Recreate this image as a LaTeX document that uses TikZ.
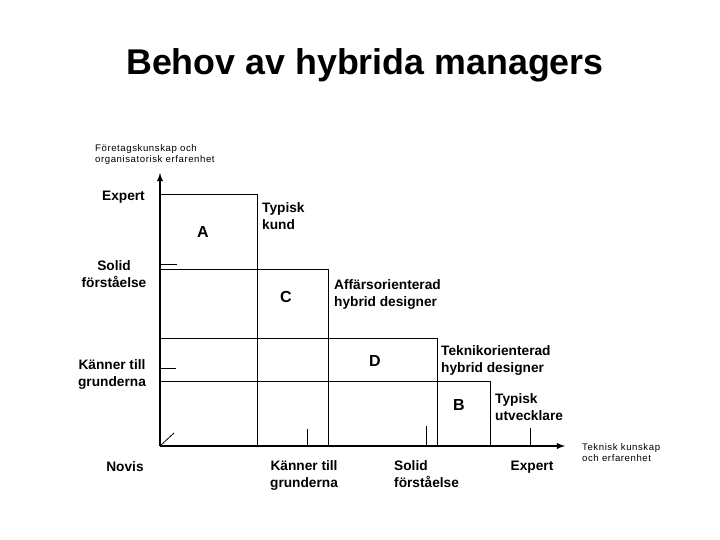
\documentclass[tikz,border=0pt]{standalone}
\usepackage{fontspec}
\setmainfont{Liberation Sans}
\usetikzlibrary{calc}
\tikzset{axel/.style={line width=1.8pt,color=black},axel/.default=black}
\tikzset{ruta/.style={line width=0.8pt,color=black}}

\begin{document}
\begin{tikzpicture}[x=1pt,y=-1pt,
		etikett/.style={inner sep=0pt,font=\bfseries\fontsize{13.7}{17}\selectfont},
		liten/.style={inner sep=0pt,align=left,font=\addfontfeature{LetterSpace=6}\fontsize{9.6}{11}\selectfont},
		bokstav/.style={inner sep=0pt,font=\bfseries\fontsize{16}{16}\selectfont}]

		\useasboundingbox (0,0) rectangle (720,540);

		% Rubriken
		\node [inner sep=0pt,anchor=base,font=\bfseries\fontsize{35.8}{36}\selectfont] (rubrik)
			at (365,75) {Behov av hybrida managers};

		% Origo och axlarnas ändar
		\coordinate (O) at (160,446);
		\coordinate (ytopp) at (160,173);
		\coordinate (xslut) at (565,446);

		% Rutorna (trappan)
		\draw [ruta] ($(O)+(0,-252)$) -| ($(O)+(97,0)$);
		\draw [ruta] ($(O)+(0,-177)$) -| ($(O)+(168,0)$);
		\draw [ruta] ($(O)+(0,-108)$) -| ($(O)+(277,0)$);
		\draw [ruta] ($(O)+(0,-65)$)  -| ($(O)+(330,0)$);

		% Små markeringar på axlarna
		\draw [ruta] ($(O)+(0,-182)$) -- ++(17,0);
		\draw [ruta] ($(O)+(0,-78)$)  -- ++(16,0);
		\draw [ruta] ($(O)+(147,0)$) -- ++(0,-17);
		\draw [ruta] ($(O)+(266,0)$) -- ++(0,-20);
		\draw [ruta] ($(O)+(370,0)$) -- ++(0,-18);
		\draw [ruta] (O) -- ++(14,-13);

		% Axlarna
		\draw [axel,-latex] (O) -- (ytopp);
		\draw [axel,-latex] (O) -- (xslut);

		% Axeltexter
		\node [liten,anchor=base west] (yaxel) at (95,163)
			{Företagskunskap och\\organisatorisk erfarenhet};
		\node [liten,anchor=base west] (xaxel) at (582,461)
			{Teknisk kunskap\\och erfarenhet};

		% Nivåer på y-axeln
		\node [etikett,anchor=east] (yexpert) at (145,197) {Expert};
		\node [etikett,align=center] (ysolid) at (114,274) {Solid\\förståelse};
		\node [etikett,align=center] (ykanner) at (112,374) {Känner till\\grunderna};

		% Nivåer på x-axeln
		\node [etikett] (xnovis) at (125,467) {Novis};
		\node [etikett,align=center,anchor=north] (xkanner) at (304,460) {Känner till\\grunderna};
		\node [etikett,align=left,anchor=north west] (xsolid) at (394,460) {Solid\\förståelse};
		\node [etikett] (xexpert) at (532,467) {Expert};

		% Bokstäverna i rutorna
		\node [bokstav] (A) at (203,232) {A};
		\node [bokstav] (C) at (286,297) {C};
		\node [bokstav] (D) at (375,361) {D};
		\node [bokstav] (B) at (459,405) {B};

		% Rollerna
		\node [etikett,align=left,anchor=west] (kund) at (262,216) {Typisk\\kund};
		\node [etikett,align=left,anchor=west] (affar) at (334,294) {Affärsorienterad\\hybrid designer};
		\node [etikett,align=left,anchor=west] (teknik) at (441,360) {Teknikorienterad\\hybrid designer};
		\node [etikett,align=left,anchor=west] (utv) at (495,407) {Typisk\\utvecklare};

	\end{tikzpicture}
\end{document}
